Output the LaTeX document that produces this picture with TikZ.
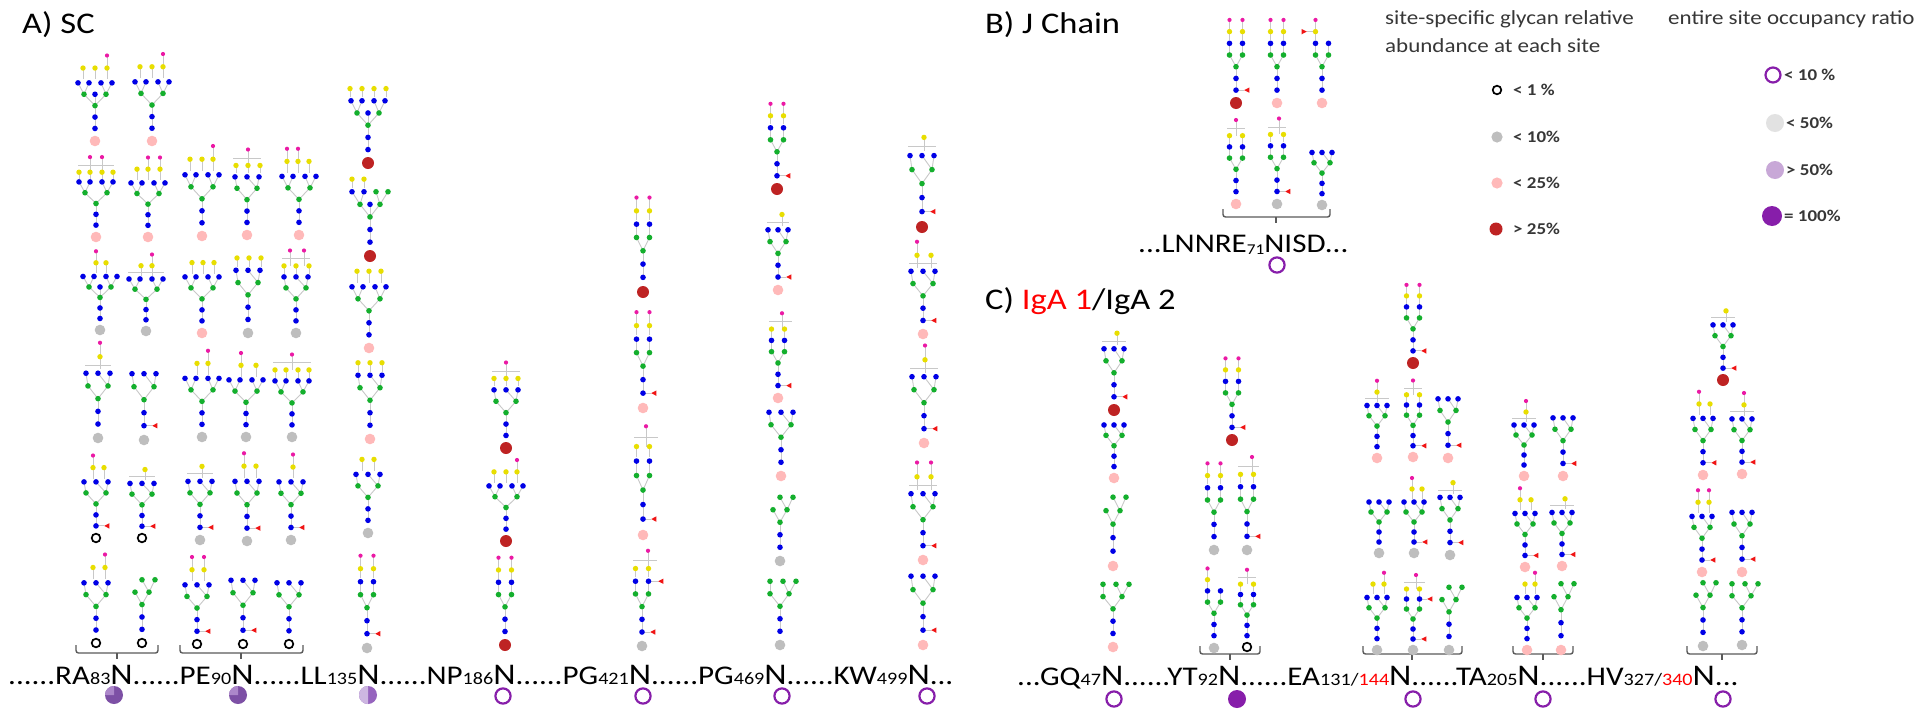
\documentclass[tikz,border=0pt]{standalone}
\usepackage{fontspec}
\setmainfont{Carlito}
\newfontfamily\sqf{Carlito}[FakeStretch=1.15]
\definecolor{cB}{RGB}{0,0,230}
\definecolor{cG}{RGB}{20,175,45}
\definecolor{cY}{RGB}{232,222,0}
\definecolor{cM}{RGB}{235,25,165}
\definecolor{cF}{RGB}{240,20,20}
\definecolor{lkc}{RGB}{200,200,200}
\definecolor{abPc}{RGB}{255,185,185}
\definecolor{abGc}{RGB}{190,190,190}
\definecolor{abDc}{RGB}{190,35,35}
\definecolor{ocP}{RGB}{135,30,170}
\definecolor{ocLt}{RGB}{200,168,215}
\definecolor{ocGr}{RGB}{226,226,226}
\definecolor{ocM}{RGB}{125,80,165}
\definecolor{ocMl}{RGB}{172,135,202}
\definecolor{ocHd}{RGB}{150,100,190}
\definecolor{ocHl}{RGB}{205,182,225}
\definecolor{brkc}{RGB}{90,90,90}
\definecolor{lgt}{RGB}{55,55,55}
\tikzset{
  lk/.style={draw=lkc,line width=0.9pt},
  brkline/.style={draw=brkc,line width=1.4pt},
  seq/.style={inner sep=0pt,anchor=base west,font=\sqf\fontsize{27}{30}\selectfont},
  lab/.style={inner sep=0pt,anchor=base west,font=\sqf\fontsize{30}{32}\selectfont},
  lghead/.style={inner sep=0pt,anchor=base west,text=lgt,font=\sqf\fontsize{20}{22}\selectfont},
  lgitem/.style={inner sep=0pt,anchor=west,text=lgt,font=\sqf\bfseries\fontsize{16.5}{18}\selectfont}
}
\newif\iflinepass
% residues (local coordinates: x in px, y in levels of \gs)
\newcommand\gL[4]{\iflinepass\draw[lk] ({#1},{-(#2)*\gs}) -- ({#3},{-(#4)*\gs});\fi}
\newcommand\gB[2]{\iflinepass\else\fill[cB] ({#1},{-(#2)*\gs}) circle[radius=2.8pt];\fi}
\newcommand\gG[2]{\iflinepass\else\fill[cG] ({#1},{-(#2)*\gs}) circle[radius=2.8pt];\fi}
\newcommand\gY[2]{\iflinepass\else\fill[cY] ({#1},{-(#2)*\gs}) circle[radius=2.7pt];\fi}
\newcommand\gM[2]{\iflinepass\else\fill[cM] ({#1},{-(#2)*\gs}) circle[radius=2.1pt];\fi}
\newcommand\gF[2]{\iflinepass\else\fill[cF] ({#1-2.8},{-(#2)*\gs}) -- ++(5.2pt,2.7pt) -- ++(0pt,-5.4pt) -- cycle;\fi}
\newcommand\gFr[2]{\iflinepass\else\fill[cF] ({#1+2.8},{-(#2)*\gs}) -- ++(-5.2pt,2.7pt) -- ++(0pt,-5.4pt) -- cycle;\fi}
% abundance marks
\newcommand\abR{\iflinepass\else\draw[black,line width=1.7pt] (0,0) circle[radius=4.3pt];\fi}
\newcommand\abG{\iflinepass\else\fill[abGc] (0,0) circle[radius=5.3pt];\fi}
\newcommand\abP{\iflinepass\else\fill[abPc] (0,0) circle[radius=5.3pt];\fi}
\newcommand\abD{\iflinepass\else\fill[abDc] (0,0) circle[radius=6pt];\fi}
% templates
\newcommand\tP{\def\galL{6.1}\def\siaL{7.1}%
 \gL{0}{3.1}{-6.5}{4.1}\gL{0}{3.1}{6.5}{4.1}\gL{-6.5}{4.1}{-6.5}{5.1}\gL{6.5}{4.1}{6.5}{5.1}%
 \gG{-6.5}{4.1}\gG{6.5}{4.1}\gB{-6.5}{5.1}\gB{6.5}{5.1}}
\newcommand\tVt{\def\galL{6.4}\def\siaL{7.5}%
 \gL{0}{3.1}{-10}{4.1}\gL{0}{3.1}{10}{4.1}\gL{-10}{4.1}{-12}{5.1}\gL{10}{4.1}{0}{5.1}\gL{10}{4.1}{12}{5.1}%
 \gG{-10}{4.1}\gG{10}{4.1}\gB{-12}{5.1}\gB{0}{5.1}\gB{12}{5.1}}
\newcommand\tVn{\def\galL{6.4}\def\siaL{7.5}%
 \gL{0}{3.1}{-8}{4.1}\gL{0}{3.1}{8}{4.1}\gL{-8}{4.1}{-10}{5.1}\gL{8}{4.1}{0}{5.1}\gL{8}{4.1}{10}{5.1}%
 \gG{-8}{4.1}\gG{8}{4.1}\gB{-10}{5.1}\gB{0}{5.1}\gB{10}{5.1}}
\newcommand\tVf{\def\galL{6.4}\def\siaL{7.5}%
 \gL{0}{3.1}{-11}{4.1}\gL{0}{3.1}{11}{4.1}\gL{-11}{4.1}{-17}{5.1}\gL{-11}{4.1}{-6}{5.1}\gL{11}{4.1}{6}{5.1}\gL{11}{4.1}{17}{5.1}%
 \gG{-11}{4.1}\gG{11}{4.1}\gB{-17}{5.1}\gB{-6}{5.1}\gB{6}{5.1}\gB{17}{5.1}}
\newcommand\tVb{\tVf\gL{0}{3.1}{0}{4.1}\gB{0}{4.1}}
\newcommand\tMf{\def\galL{6.1}\def\siaL{7.1}%
 \gL{0}{3.1}{-7}{4.1}\gL{0}{3.1}{7}{4.1}\gL{7}{4.1}{0}{5.1}\gL{7}{4.1}{13}{5.1}%
 \gG{-7}{4.1}\gG{7}{4.1}\gG{0}{5.1}\gG{13}{5.1}}
\newcommand\tMs{\def\galL{6.1}\def\siaL{7.1}%
 \gL{0}{3.1}{-10}{4.1}\gL{0}{3.1}{9}{4.1}\gL{-10}{4.1}{-10}{5.1}\gL{9}{4.1}{3}{5.1}\gL{9}{4.1}{16}{5.1}%
 \gG{-10}{4.1}\gG{9}{4.1}\gG{-10}{5.1}\gG{3}{5.1}\gG{16}{5.1}}
\newcommand\tHy{\def\galL{6.4}\def\siaL{7.5}%
 \gL{0}{3.1}{-10}{4.1}\gL{0}{3.1}{0}{4.1}\gL{0}{3.1}{10}{4.1}\gL{-10}{4.1}{-18}{5.1}\gL{-10}{4.1}{-6}{5.1}\gL{10}{4.1}{6}{5.1}\gL{10}{4.1}{18}{5.1}%
 \gG{-10}{4.1}\gB{0}{4.1}\gG{10}{4.1}\gB{-18}{5.1}\gB{-6}{5.1}\gG{6}{5.1}\gG{18}{5.1}}
\newcommand\barG[2]{\gL{#1}{5.75}{#2}{5.75}}
\newcommand\barS[2]{\pgfmathsetmacro\siaL{\galL+1.4}\gL{#1}{\galL+0.65}{#2}{\galL+0.65}}
% one glycan: x, y, step, abundance, core fucose, template, gal list, sia list, extra
\newcommand\gly[9]{%
\begin{scope}[shift={(#1,#2)}]%
\def\gs{#3}%
#4%
\gL{0}{1.1}{0}{3.1}%
\gB{0}{1.1}\gB{0}{2.1}\gG{0}{3.1}%
\ifnum#5=1 \gL{0}{1.1}{8}{1.1}\gF{11}{1.1}\fi
#6%
#9%
\def\tmpa{#7}\ifx\tmpa\empty\else\foreach \q in {#7}{\gL{\q}{\galL}{\q}{5.4}\gY{\q}{\galL}}\fi
\def\tmpb{#8}\ifx\tmpb\empty\else\foreach \q in {#8}{\gL{\q}{\siaL}{\q}{\galL}\gM{\q}{\siaL}}\fi
\end{scope}}
% brackets and occupancy marks
\newcommand\brk[4]{\draw[brkline,rounded corners=2.5pt] (#1,#3-8) -- (#1,#3) -- (#2,#3) -- (#2,#3-8);
 \draw[brkline] (#4,#3) -- (#4,#3+6);}
\newcommand\ocR[2]{\draw[ocP,line width=2.2pt] (#1,#2) circle[radius=7.6pt];}
\newcommand\ocF[2]{\fill[ocP] (#1,#2) circle[radius=9pt];}
\newcommand\ocQ[2]{\fill[ocM] (#1,#2) circle[radius=9pt];
 \fill[ocMl] (#1,#2) -- ++(90:9pt) arc[start angle=90,end angle=180,radius=9pt] -- cycle;}
\newcommand\ocH[2]{\fill[ocHd] (#1,#2) circle[radius=9pt];
 \fill[ocHl] (#1,#2) -- ++(90:9pt) arc[start angle=90,end angle=270,radius=9pt] -- cycle;}
\newcommand\sbs[1]{{\fontsize{17.5}{18}\selectfont #1}}
\newcommand\bigN{{\fontsize{30}{30}\selectfont N}}
\newcommand\allglycans{%
% RA col1
\gly{95}{141}{11.4}{\abP}{0}{\tVb}{-12,0,12}{12}{}
\gly{96}{237}{10.8}{\abP}{0}{\tVf}{-17,-6,6,17}{-6,6}{\def\galL{6.0}\barS{-18}{18}}
\gly{100}{330}{10.5}{\abG}{0}{\tVb}{-4,6}{-4}{}
\gly{98}{438}{12.7}{\abG}{0}{\tVt}{2}{2}{\barG{-13}{13}}
\gly{96}{538}{11}{\abR}{1}{\tVt}{-3,8}{-3}{}
\gly{96}{643}{11.8}{\abR}{0}{\tVt}{-3,9}{9}{}
% RA col2
\gly{152}{141}{11.6}{\abP}{0}{\tVf}{-12,0,11}{11}{}
\gly{148}{237}{10.6}{\abP}{0}{\tVf}{-11,0,12}{0,12}{}
\gly{146}{331}{10.2}{\abG}{0}{\tVf}{-5,6}{6}{\barG{-18}{18}}
\gly{144}{440}{13}{\abG}{1}{\tVt}{}{}{}
\gly{142}{538}{10.7}{\abR}{1}{\tVt}{3}{}{\barG{-13}{13}}
\gly{142}{643}{12.4}{\abR}{0}{\tMf}{}{}{}
% PE col1
\gly{202}{236}{12}{\abP}{0}{\tVf}{-12,0,11}{11}{}
\gly{202}{333}{11}{\abP}{0}{\tVf}{-10,1,12}{}{}
\gly{202}{437}{11.5}{\abG}{0}{\tVf}{-5,6}{6}{}
\gly{200}{540}{11.5}{\abG}{1}{\tVt}{2}{}{\barG{-13}{13}}
\gly{197}{644}{11.6}{\abR}{1}{\tVt}{-5,7}{-5,7}{}
% PE col2
\gly{247}{235}{11.4}{\abP}{0}{\tVt}{-11,1,13}{1}{\def\galL{6.1}\barS{-14}{14}}
\gly{248}{333}{12.3}{\abG}{0}{\tVt}{-11,1,13}{}{\def\galL{6.1}}
\gly{246}{437}{11.2}{\abG}{0}{\tVf}{-5,10}{-5}{}
\gly{247}{541}{11.7}{\abG}{1}{\tVt}{-3,9}{-3}{}
\gly{243}{644}{12.5}{\abR}{1}{\tVt}{}{}{}
% PE col3
\gly{299}{235}{11.5}{\abP}{0}{\tVf}{-12,-1,10}{-12,-1}{}
\gly{296}{333}{11}{\abG}{0}{\tVt}{-12,0,13}{-6,8}{\def\galL{6.1}\barS{-14}{14}}
\gly{292}{437}{11}{\abG}{0}{\tVf}{-17,-6,6,17}{0}{\def\galL{6.1}\barS{-19}{19}}
\gly{291}{540}{11.4}{\abG}{1}{\tVt}{2}{2}{}
\gly{289}{644}{12}{\abR}{0}{\tVt}{}{}{}
% LL
\gly{368}{163}{12.2}{\abD}{0}{\tVb}{-18,-6,6,18}{}{\def\galL{6.1}}
\gly{370}{256}{12.6}{\abD}{0}{\tHy}{-18,-6}{}{\def\galL{6.1}}
\gly{369}{348}{12}{\abP}{0}{\tVf}{-12,0,12}{}{}
\gly{370}{439}{12.5}{\abP}{0}{\tVt}{-12,0,12}{}{\def\galL{6.1}}
\gly{368}{533}{11.5}{\abG}{0}{\tVt}{-6,6}{}{}
\gly{367}{648}{13}{\abG}{1}{\tP}{-6.5,6.5}{-6.5,6.5}{}
% NP
\gly{506}{448}{11.4}{\abD}{0}{\tVt}{-12,0,12}{0}{\def\galL{6.1}\barS{-14}{14}}
\gly{506}{541}{10.8}{\abD}{0}{\tVf}{-12,0,11}{11}{}
\gly{505}{645}{12.3}{\abD}{0}{\tP}{-6.5,6.5}{-6.5,6.5}{}
% PG421
\gly{643}{292}{13.3}{\abD}{0}{\tP}{-6.5,6.5}{-6.5,6.5}{}
\gly{643}{408}{13.5}{\abP}{1}{\tP}{-6.5,6.5}{-6.5,6.5}{}
\gly{643}{535}{14.5}{\abP}{1}{\tP}{-6.5,6.5}{3}{\barS{-9}{15}}
\gly{642}{646}{12.7}{\abG}{1}{\tP}{-6.5,6.5}{6}{\barS{-9}{15}\gL{6.5}{5.1}{16}{5.1}\gF{19}{5.1}}
% PG469
\gly{777}{189}{12}{\abD}{1}{\tP}{-6.5,6.5}{-6.5,6.5}{}
\gly{778}{290}{11.8}{\abP}{1}{\tVn}{4}{}{\barG{-11}{11}}
\gly{778}{398}{11.3}{\abP}{1}{\tP}{-6.5,6.5}{4}{\barS{-9}{14}}
\gly{781}{476}{12.5}{\abP}{0}{\tVt}{}{}{}
\gly{780}{561}{12.5}{\abG}{0}{\tMf}{}{}{}
\gly{780}{645}{12.5}{\abG}{0}{\tMs}{}{}{}
% KW499
\gly{922}{227}{14}{\abD}{1}{\tVt}{2}{}{\barG{-14}{14}}
\gly{923}{334}{12.3}{\abP}{1}{\tVt}{-6,8}{-6}{\barG{-14}{14}}
\gly{924}{443}{13}{\abP}{1}{\tVt}{1}{1}{\barG{-14}{14}}
\gly{923}{560}{13}{\abP}{1}{\tVt}{-6,8}{-6,8}{\barG{-14}{14}}
\gly{923}{645}{13.5}{\abP}{1}{\tVt}{}{}{}
% J chain
\gly{1236}{103}{11.7}{\abD}{1}{\tP}{-6.5,6.5}{-6.5,6.5}{}
\gly{1277}{103}{11.7}{\abP}{0}{\tP}{-6.5,6.5}{-6.5,6.5}{}
\gly{1322}{103}{11.7}{\abP}{0}{\tP}{-6.5}{-6.5}{\gL{-6.5}{6.1}{-15}{6.1}\gFr{-18}{6.1}}
\gly{1236}{204}{11.2}{\abP}{0}{\tP}{-6.5,6.5}{0}{\barS{-9}{9}}
\gly{1277}{204}{11.4}{\abG}{1}{\tP}{-6.5,6.5}{2}{\barS{-9}{9}}
\gly{1322}{205}{10.3}{\abG}{0}{\tVn}{}{}{}
% GQ47
\gly{1114}{410}{12}{\abD}{1}{\tVn}{3}{}{\barG{-12}{12}}
\gly{1114}{478}{10.4}{\abP}{0}{\tVn}{}{}{}
\gly{1113}{566}{13.5}{\abP}{0}{\tMf}{}{}{}
\gly{1113}{647}{12.3}{\abP}{0}{\tMs}{}{}{}
% YT92
\gly{1232}{440}{11.5}{\abD}{1}{\tP}{-6.5,6.5}{-6.5,6.5}{}
\gly{1214}{550}{12.2}{\abG}{0}{\tP}{-6.5,6.5}{-6.5,6.5}{}
\gly{1247}{550}{12.4}{\abG}{1}{\tP}{-6.5,6.5}{5}{\barS{-9}{12}}
\gly{1214}{648}{11.2}{\abG}{0}{\tP}{-6.5}{-6.5}{}
\gly{1247}{647}{10.3}{\abR}{0}{\tP}{-6.5,6.5}{0}{\barS{-9}{9}}
% EA131/144
\gly{1413}{363}{11}{\abD}{1}{\tP}{-6.5,6.5}{-6.5,6.5}{}
\gly{1377}{458}{10.3}{\abP}{0}{\tVn}{0}{0}{\barG{-12}{12}}
\gly{1413}{457}{10.2}{\abP}{1}{\tP}{-6.5,6.5}{0}{\barS{-9}{9}}
\gly{1448}{458}{11.6}{\abP}{1}{\tVn}{}{}{}
\gly{1379}{553}{10}{\abG}{0}{\tVn}{}{}{}
\gly{1414}{553}{10}{\abG}{1}{\tVn}{-2,8}{-2}{}
\gly{1450}{555}{11.3}{\abG}{1}{\tVn}{3}{}{\barG{-12}{12}}
\gly{1377}{650}{10.3}{\abG}{0}{\tVn}{-4,7}{7}{}
\gly{1413}{650}{10}{\abG}{1}{\tP}{-6.5,6.5}{3}{\barS{-9}{12}\gL{6.5}{5.1}{14}{5.1}\gF{17}{5.1}}
\gly{1449}{650}{12.3}{\abG}{0}{\tMf}{}{}{}
% TA205
\gly{1524}{476}{10}{\abP}{0}{\tVn}{2}{2}{\barG{-12}{12}}
\gly{1563}{476}{11.4}{\abP}{1}{\tVn}{}{}{}
\gly{1525}{567}{10.5}{\abP}{1}{\tVn}{-5,6}{-5}{}
\gly{1562}{566}{10.5}{\abP}{1}{\tVn}{3}{}{\barG{-12}{12}}
\gly{1527}{650}{10.3}{\abP}{0}{\tVn}{-2,8}{8}{}
\gly{1561}{650}{13}{\abP}{0}{\tMf}{}{}{}
% HV327/340
\gly{1723}{380}{10.8}{\abD}{1}{\tVn}{3}{}{\barG{-12}{12}}
\gly{1703}{475}{11.1}{\abP}{1}{\tVn}{-4,7}{-4}{}
\gly{1742}{474}{10.8}{\abP}{1}{\tVn}{2}{2}{\barG{-12}{12}}
\gly{1702}{572}{10.9}{\abP}{1}{\tVn}{-4,7}{-4,7}{}
\gly{1742}{572}{11.7}{\abP}{1}{\tVn}{}{}{}
\gly{1703}{646}{12.4}{\abG}{0}{\tMf}{}{}{}
\gly{1742}{645}{12}{\abG}{0}{\tMs}{}{}{}
}
\begin{document}
\begin{tikzpicture}[x=1pt,y=-1pt]
\fill[white] (0,0) rectangle (1920,718);
\useasboundingbox (0,0) rectangle (1920,718);
% ---------- labels ----------
\node[lab] (labA) at (22,33) {A) SC};
\node[lab] (labB) at (985,33) {B) J Chain};
\node[lab] (labC) at (985,309) {C) \textcolor{red}{IgA 1}/IgA 2};
% ---------- sequences ----------
\node[seq] (seqA) at (8,684) {......RA\sbs{83}\bigN......PE\sbs{90}\bigN......LL\sbs{135}\bigN......NP\sbs{186}\bigN......PG\sbs{421}\bigN......PG\sbs{469}\bigN......KW\sbs{499}\bigN...};
\node[seq] (seqC) at (1017,685) {...GQ\sbs{47}\bigN......YT\sbs{92}\bigN......EA\sbs{131/\textcolor{red}{144}}\bigN......TA\sbs{205}\bigN......HV\sbs{327/\textcolor{red}{340}}\bigN...};
\node[seq] (seqJ) at (1138,252) {...LNNRE\raisebox{-2pt}{\fontsize{15}{15}\selectfont 71}NISD...};
% ---------- occupancy ----------
\ocQ{114}{695}\ocQ{238}{695}\ocH{368}{695}
\ocR{503}{696}\ocR{643}{696}\ocR{782}{696}\ocR{927}{696}
\ocR{1114}{699}\ocF{1237}{699}\ocR{1413}{699}\ocR{1543}{699}\ocR{1723}{699}
\ocR{1277}{265}
% ---------- brackets ----------
\brk{76}{158}{653}{117}
\brk{180}{303}{653}{241}
\brk{1200}{1260}{654}{1230}
\brk{1363}{1462}{654}{1412}
\brk{1513}{1573}{654}{1543}
\brk{1687}{1757}{654}{1722}
\brk{1223}{1330}{217}{1276}
% ---------- legend ----------
\node[lghead] (lg1) at (1385,24) {site-specific glycan relative};
\node[lghead] (lg2) at (1385,52) {abundance at each site};
\node[lghead] (lg3) at (1668,24) {entire site occupancy ratio};
\draw[black,line width=1.7pt] (1497,90) circle[radius=4.3pt];
\node[lgitem] (la1) at (1513,90) {< 1 \%};
\fill[abGc] (1497,137) circle[radius=5.6pt];
\node[lgitem] (la2) at (1513,137) {< 10\%};
\fill[abPc] (1497,183) circle[radius=5.6pt];
\node[lgitem] (la3) at (1513,183) {< 25\%};
\fill[abDc] (1496,229) circle[radius=6.5pt];
\node[lgitem] (la4) at (1513,229) {> 25\%};
\draw[ocP,line width=2.2pt] (1773,75) circle[radius=7.5pt];
\node[lgitem] (lo1) at (1784,75) {< 10 \%};
\fill[ocGr] (1775,123) circle[radius=9pt];
\node[lgitem] (lo2) at (1786,123) {< 50\%};
\fill[ocLt] (1775,170) circle[radius=9pt];
\node[lgitem] (lo3) at (1786,170) {> 50\%};
\fill[ocP] (1772,216) circle[radius=10pt];
\node[lgitem] (lo4) at (1784,216) {= 100\%};
% ---------- glycans: linkages first, then residues ----------
\linepasstrue\allglycans
\linepassfalse\allglycans
\end{tikzpicture}
\end{document}
